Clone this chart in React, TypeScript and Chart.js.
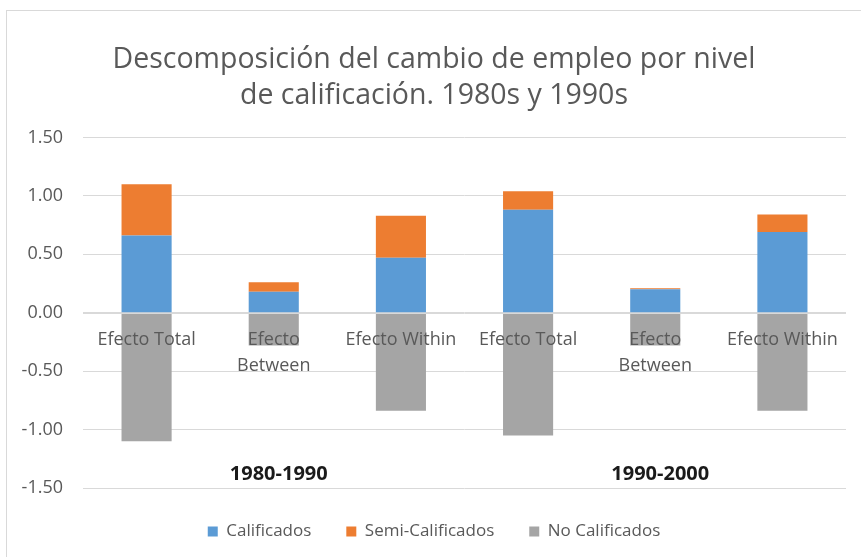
import React, { useEffect, useRef } from "react";
import { Chart, registerables } from "chart.js";

Chart.register(...registerables);

const FONT = "'Open Sans', 'DejaVu Sans', sans-serif";

const categories: (string | string[])[] = [
  "Efecto Total",
  ["Efecto", "Between"],
  "Efecto Within",
  "Efecto Total",
  ["Efecto", "Between"],
  "Efecto Within",
];

const calificados = [0.66, 0.18, 0.47, 0.88, 0.2, 0.69];
const semiCalificados = [0.44, 0.08, 0.36, 0.16, 0.01, 0.15];
const noCalificados = [-1.1, -0.28, -0.84, -1.05, -0.28, -0.84];

const seriesNames = ["Calificados", "Semi-Calificados", "No Calificados"];
const seriesColors = ["#5B9BD5", "#ED7D31", "#A5A5A5"];

const periodLabels = ["1980-1990", "1990-2000"];
const periodCategoryIndex = [1, 4];
const periodLabelValue = -1.38;

const titleLines = [
  "Descomposición del cambio de empleo por nivel",
  "de calificación. 1980s y 1990s",
];

const yMin = -1.5;
const yMax = 1.5;
const yStep = 0.5;

const extrasPlugin = {
  id: "extras",
  afterDatasetsDraw(chart: any) {
    const { ctx, chartArea, scales } = chart;
    const y0 = Math.round(scales.y.getPixelForValue(0)) + 0.5;
    ctx.save();
    ctx.strokeStyle = "#d9d9d9";
    ctx.lineWidth = 1;
    ctx.beginPath();
    ctx.moveTo(chartArea.left, y0);
    ctx.lineTo(chartArea.right, y0);
    ctx.stroke();
    ctx.restore();
  },
  afterDraw(chart: any) {
    const { ctx, scales } = chart;
    ctx.save();
    ctx.fillStyle = "#1a1a1a";
    ctx.font = `bold 20px ${FONT}`;
    ctx.textAlign = "center";
    ctx.textBaseline = "middle";
    periodLabels.forEach((lab, i) => {
      const x = scales.x.getPixelForValue(periodCategoryIndex[i]);
      const y = scales.y.getPixelForValue(periodLabelValue);
      ctx.fillText(lab, x + 5, y);
    });
    ctx.restore();
  },
};

export default function App() {
  const canvasRef = useRef<HTMLCanvasElement | null>(null);

  useEffect(() => {
    const canvas = canvasRef.current;
    if (!canvas) return;
    const chart = new Chart(canvas, {
      type: "bar",
      data: {
        labels: categories as any,
        datasets: [calificados, semiCalificados, noCalificados].map((d, i) => ({
          label: seriesNames[i],
          data: d,
          backgroundColor: seriesColors[i],
          borderWidth: 0,
          categoryPercentage: 1,
          barPercentage: 0.394,
        })),
      },
      options: {
        responsive: false,
        animation: false,
        maintainAspectRatio: false,
        layout: { padding: { left: 22, right: 15, top: 0, bottom: 7 } },
        scales: {
          x: {
            type: "category",
            stacked: true,
            position: { y: 0 } as any,
            grid: { display: false, drawTicks: false },
            border: { display: false },
            ticks: {
              z: 1,
              color: "#595959",
              font: { family: FONT, size: 18, lineHeight: 1.4 },
              padding: 15,
              maxRotation: 0,
              autoSkip: false,
            },
          } as any,
          y: {
            stacked: true,
            min: yMin,
            max: yMax,
            grid: { color: "#d9d9d9", drawTicks: false },
            border: { display: false },
            ticks: {
              stepSize: yStep,
              color: "#595959",
              font: { family: FONT, size: 18 },
              padding: 20,
              callback: (v: any) => Number(v).toFixed(2),
            },
            afterFit: (s: any) => {
              s.width = 61;
            },
          },
        },
        plugins: {
          title: {
            display: true,
            text: titleLines,
            color: "#595959",
            font: { family: FONT, size: 28.5, weight: "normal", lineHeight: 1.27 },
            padding: { top: 42, bottom: 23 },
          },
          legend: {
            position: "bottom",
            labels: {
              boxWidth: 10,
              boxHeight: 10,
              color: "#595959",
              font: { family: FONT, size: 17 },
              padding: 35,
            },
          },
          tooltip: { enabled: false },
        },
      },
      plugins: [extrasPlugin],
    });
    return () => chart.destroy();
  }, []);

  return (
    <div
      style={{
        position: "fixed",
        left: 0,
        top: 0,
        width: 861,
        height: 557,
        background: "#ffffff",
        overflow: "hidden",
      }}
    >
      <div
        style={{
          position: "absolute",
          left: 6,
          top: 10,
          width: 900,
          height: 600,
          border: "1px solid #d9d9d9",
          boxSizing: "border-box",
        }}
      />
      <canvas
        ref={canvasRef}
        width={861}
        height={557}
        style={{ position: "absolute", left: 0, top: 0, width: 861, height: 557 }}
      />
    </div>
  );
}
